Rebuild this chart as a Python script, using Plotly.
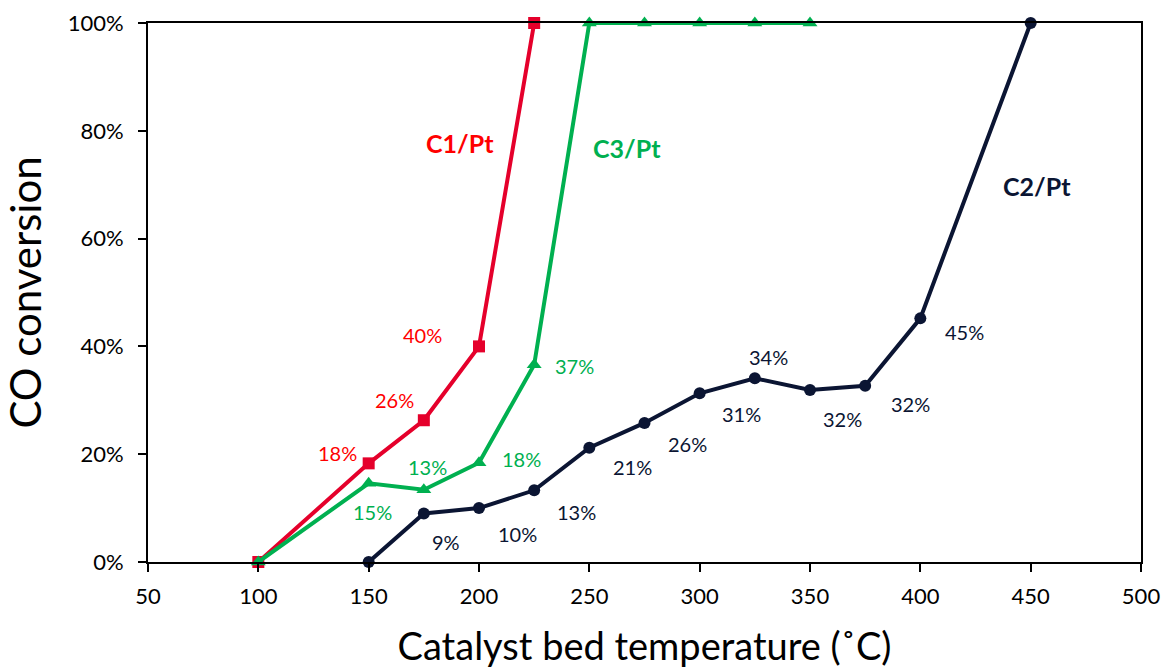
import plotly.graph_objects as go

# Data
c1_temp = [100, 150, 175, 200, 225]
c1_conv = [0.0, 0.183, 0.263, 0.40, 1.0]
c1_labels = ["", "18%", "26%", "40%", ""]

c3_temp = [100, 150, 175, 200, 225, 250, 275, 300, 325, 350]
c3_conv = [0.0, 0.146, 0.134, 0.184, 0.366, 1.0, 1.0, 1.0, 1.0, 1.0]
c3_labels = ["", "15%", "13%", "18%", "37%", "", "", "", "", ""]

c2_temp = [150, 175, 200, 225, 250, 275, 300, 325, 350, 375, 400, 450]
c2_conv = [0.0, 0.09, 0.10, 0.133, 0.212, 0.258, 0.313, 0.341, 0.319, 0.327, 0.452, 1.0]
c2_labels = ["", "9%", "10%", "13%", "21%", "26%", "31%", "34%", "32%", "32%", "45%", ""]

x_ticks = [50, 100, 150, 200, 250, 300, 350, 400, 450, 500]
y_ticks = [0, 0.2, 0.4, 0.6, 0.8, 1.0]

# label offsets in pixels (dx, dy) -- styling only
c1_off = [(0, 0), (-31, 10), (-29, 20), (-57, 11), (0, 0)]
c3_off = [(0, 0), (4, -29), (4, 23), (42, 4), (40, -1), (0, 0), (0, 0), (0, 0), (0, 0), (0, 0)]
c2_off = [(0, 0), (22, -29), (38, -26), (42, -22), (43, -19), (43, -21), (42, -21), (14, 21),
          (32, -29), (45, -18), (44, -14), (0, 0)]

RED = "#E5002B"
RED_TXT = "#FF0000"
GREEN = "#00B050"
NAVY = "#0B1533"
FONT = "Lato"

fig = go.Figure()
fig.add_scatter(x=c1_temp, y=c1_conv, mode="lines+markers", cliponaxis=False,
                line=dict(color=RED, width=4),
                marker=dict(symbol="square", size=12, color=RED))
fig.add_scatter(x=c3_temp, y=c3_conv, mode="lines+markers", cliponaxis=False,
                line=dict(color=GREEN, width=4),
                marker=dict(symbol="triangle-up", size=13, color=GREEN))
fig.add_scatter(x=c2_temp, y=c2_conv, mode="lines+markers", cliponaxis=False,
                line=dict(color=NAVY, width=4),
                marker=dict(symbol="circle", size=12, color=NAVY))

annotations = []
for temps, convs, labels, offs, col in [
    (c1_temp, c1_conv, c1_labels, c1_off, RED_TXT),
    (c3_temp, c3_conv, c3_labels, c3_off, GREEN),
    (c2_temp, c2_conv, c2_labels, c2_off, NAVY),
]:
    for t, v, lab, (dx, dy) in zip(temps, convs, labels, offs):
        if lab:
            annotations.append(dict(x=t, y=v, text=lab, showarrow=False,
                                    xshift=dx, yshift=dy,
                                    font=dict(family=FONT, size=20, color=col)))

# series names
annotations.append(dict(x=191.5, y=0.777, text="<b>C1/Pt</b>", showarrow=False,
                        font=dict(family=FONT, size=25, color=RED_TXT)))
annotations.append(dict(x=267, y=0.768, text="<b>C3/Pt</b>", showarrow=False,
                        font=dict(family=FONT, size=25, color=GREEN)))
annotations.append(dict(x=452.8, y=0.698, text="<b>C2/Pt</b>", showarrow=False,
                        font=dict(family=FONT, size=25, color=NAVY)))

fig.update_layout(
    width=1165, height=671,
    margin=dict(l=148, r=24, t=23, b=109),
    paper_bgcolor="white", plot_bgcolor="white",
    showlegend=False,
    font=dict(family=FONT, color="black"),
    annotations=annotations,
    xaxis=dict(range=[50, 500], tickvals=x_ticks, showgrid=False, zeroline=False,
               automargin=False,
               showline=True, linecolor="black", linewidth=2, mirror=True,
               ticks="outside", ticklen=8, tickwidth=2, tickcolor="black",
               tickfont=dict(size=22), ticklabelstandoff=6,
               title=dict(text="Catalyst bed temperature (˚C)", font=dict(size=38), standoff=25)),
    yaxis=dict(range=[0, 1], tickvals=y_ticks, tickformat=".0%", showgrid=False, zeroline=False,
               automargin=False,
               showline=True, linecolor="black", linewidth=2, mirror=True,
               ticks="outside", ticklen=8, tickwidth=2, tickcolor="black",
               tickfont=dict(size=22), ticklabelstandoff=10,
               title=dict(text="CO conversion", font=dict(size=42), standoff=30)),
)

# drop the default page margin so the figure sits flush with the window
fig.write_html("out.html", config={"displayModeBar": False},
               post_script="document.body.style.margin='0';")
